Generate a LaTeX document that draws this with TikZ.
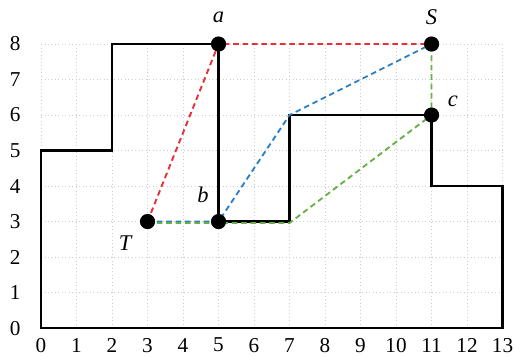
\documentclass[tikz,border=0pt]{standalone}
\usepackage{fontspec}
\setmainfont{Liberation Serif}
\definecolor{rcol}{HTML}{E8303A}
\definecolor{bcol}{HTML}{2A7FC8}
\definecolor{gcol}{HTML}{68B04A}
\begin{document}
\begin{tikzpicture}[
  gridline/.style={gray!40, dotted, line width=0.8pt},
  wall/.style={black, line width=1.9pt, line join=miter},
  rpath/.style={rcol, dash pattern=on 4.5pt off 3pt, line width=1.5pt},
  bpath/.style={bcol, dash pattern=on 4.5pt off 3pt, line width=1.5pt},
  gpath/.style={gcol, dash pattern=on 4.5pt off 3pt, line width=1.5pt},
  pt/.style={circle, fill=black, inner sep=0pt, minimum size=0.42cm},
  lbl/.style={font=\fontsize{18}{18}\selectfont\itshape},
  num/.style={font=\fontsize{17}{17}\selectfont}
]
\useasboundingbox (-1.155,-0.789) rectangle (13.35,9.24);
\draw[gridline] (0,0) grid (13,8);
\foreach \x in {0,...,13} \node[num] (x\x) at (\x,-0.48) {\x};
\foreach \y in {0,...,8} \node[num] (y\y) at (-0.73,\y) {\y};
\draw[wall] (0,0) -- (13,0) -- (13,4) -- (11,4) -- (11,6) -- (7,6) -- (7,3) -- (5,3) -- (5,8) -- (2,8) -- (2,5) -- (0,5) -- cycle;
\coordinate (p76) at (7,6);
\coordinate (p73) at (7,2.96);
\coordinate (T2) at (3,2.96);
\node[pt] (a) at (5,8) {};
\node[pt] (S) at (11,8) {};
\node[pt] (c) at (11,6) {};
\node[pt] (b) at (5,3) {};
\node[pt] (T) at (3,3) {};
\draw[rpath] (T.center) -- (a.center) -- (S.center);
\draw[bpath] (T.center) -- (b.center) -- (p76) -- (S.center);
\draw[gpath] (T2) -- (p73) -- (c.center) -- (S.center);
\node[pt] at (a) {};
\node[pt] at (S) {};
\node[pt] at (c) {};
\node[pt] at (b) {};
\node[pt] at (T) {};
\node[lbl] (la) at (5,8.75) {a};
\node[lbl] (lS) at (11,8.75) {S};
\node[lbl] (lc) at (11.6,6.4) {c};
\node[lbl] (lb) at (4.56,3.75) {b};
\node[lbl] (lT) at (2.37,2.4) {T};
\end{tikzpicture}
\end{document}
